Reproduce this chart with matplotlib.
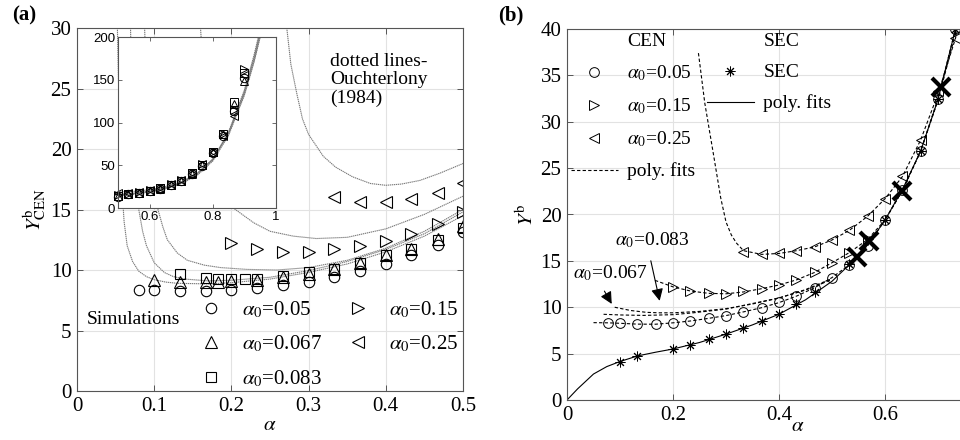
import matplotlib
matplotlib.use("Agg")
import matplotlib.pyplot as plt
from matplotlib.lines import Line2D
from matplotlib.ticker import FuncFormatter

plt.rcParams['font.family'] = ['Liberation Serif', 'DejaVu Serif']
plt.rcParams['mathtext.fontset'] = 'stix'

# ---------------- Panel (a) data ----------------
a_circ_x = [0.08, 0.1, 0.133, 0.167, 0.2, 0.233, 0.267, 0.3, 0.333, 0.367, 0.4, 0.433, 0.467, 0.5]
a_circ_y = [8.35, 8.35, 8.26, 8.26, 8.35, 8.5, 8.76, 9.04, 9.45, 9.95, 10.5, 11.24, 12.1, 13.1]
a_tri_x = [0.1, 0.133, 0.167, 0.183, 0.2, 0.233, 0.267, 0.3, 0.333, 0.367, 0.4, 0.433, 0.467, 0.5]
a_tri_y = [9.17, 9.04, 9.04, 9.04, 9.1, 9.2, 9.45, 9.7, 10.1, 10.6, 11.2, 11.7, 12.6, 13.6]
a_sq_x = [0.133, 0.167, 0.183, 0.2, 0.217, 0.233, 0.267, 0.3, 0.333, 0.367, 0.4, 0.433, 0.467, 0.5]
a_sq_y = [9.63, 9.33, 9.28, 9.25, 9.25, 9.28, 9.5, 9.8, 10.1, 10.6, 11.2, 11.7, 12.5, 13.5]
a_rt_x = [0.2, 0.233, 0.267, 0.3, 0.333, 0.367, 0.4, 0.433, 0.467, 0.5]
a_rt_y = [12.26, 11.7, 11.5, 11.5, 11.7, 12.0, 12.4, 13.0, 13.8, 14.8]
a_lt_x = [0.333, 0.367, 0.4, 0.433, 0.467, 0.5]
a_lt_y = [16.0, 15.6, 15.6, 15.9, 16.4, 17.2]

# inset simulation data
in_x = [0.5, 0.533, 0.567, 0.6, 0.633, 0.667, 0.7, 0.733, 0.767, 0.8, 0.833, 0.867, 0.9]
in_circ_y = [13.1, 15.8, 17.8, 20, 22.5, 26.5, 31.5, 39.5, 49.5, 64, 84, 113, 152]
in_tri_y = [13.6, 16.2, 18, 20.2, 22.8, 27, 32, 40, 50, 65, 86, 122, 148]
in_sq_y = [13.5, 16, 18, 20.3, 23, 27, 32, 40.5, 50.5, 65.5, 86, 124, 158]
in_rt_y = [14.8, 16.8, 18.8, 20.8, 23.2, 27.5, 32.5, 41, 51, 66, 87, 115, 162]
in_lt_y = [17.2, 17.5, 19, 21, 23.5, 27.5, 32.5, 41, 51, 66, 84, 108, 155]

# Ouchterlony (1984) curves, one per alpha0
ou_05_x = [0.052, 0.055, 0.058, 0.061, 0.065, 0.072, 0.08, 0.09, 0.1, 0.115, 0.13, 0.17, 0.2, 0.25, 0.3, 0.35,
           0.4, 0.45, 0.5, 0.55, 0.6, 0.65, 0.7, 0.75, 0.8, 0.85, 0.9, 0.93, 0.96, 0.98]
ou_05_y = [31, 22, 17, 14, 12, 10.7, 9.9, 9.45, 9.2, 9.0, 8.9, 8.85, 8.95, 9.25, 9.8, 10.5,
           11.5, 12.8, 14.5, 16.3, 18.7, 22.5, 28.5, 38, 55, 85, 132, 170, 215, 250]
ou_067_x = [0.069, 0.072, 0.076, 0.08, 0.085, 0.09, 0.1, 0.113, 0.125, 0.14, 0.17, 0.2, 0.25, 0.3, 0.35,
            0.4, 0.45, 0.5, 0.55, 0.6, 0.65, 0.7, 0.75, 0.8, 0.85, 0.9, 0.93, 0.96, 0.98]
ou_067_y = [31, 22, 17.5, 15, 13.2, 12, 10.6, 9.8, 9.45, 9.25, 9.1, 9.15, 9.4, 9.95, 10.7,
            11.7, 13.0, 14.8, 16.6, 19.0, 23, 29, 39, 56, 87, 135, 174, 220, 255]
ou_083_x = [0.087, 0.092, 0.098, 0.104, 0.111, 0.117, 0.13, 0.143, 0.165, 0.186, 0.22, 0.259, 0.3, 0.35,
            0.4, 0.45, 0.5, 0.55, 0.6, 0.65, 0.7, 0.75, 0.8, 0.85, 0.9, 0.93, 0.96, 0.98]
ou_083_y = [31, 22, 17.5, 15.2, 13.6, 12.5, 11.4, 10.8, 10.4, 10.2, 10.05, 10.0, 10.2, 10.8,
            11.8, 13.2, 15.0, 16.9, 19.4, 23.4, 29.5, 40, 57, 89, 138, 178, 225, 260]
ou_15_x = [0.159, 0.165, 0.175, 0.19, 0.203, 0.229, 0.25, 0.28, 0.31, 0.35, 0.4, 0.45, 0.5,
           0.55, 0.6, 0.65, 0.7, 0.75, 0.8, 0.85, 0.9, 0.93, 0.96, 0.98]
ou_15_y = [31, 25, 20, 16.8, 15.1, 13.9, 13.2, 12.8, 12.6, 12.7, 13.4, 14.6, 16.1,
           17.6, 19.9, 23.8, 29.8, 40, 57, 88, 136, 175, 221, 256]
ou_25_x = [0.27, 0.277, 0.285, 0.292, 0.3, 0.319, 0.335, 0.357, 0.38, 0.4, 0.42, 0.444, 0.47, 0.5,
           0.55, 0.6, 0.65, 0.7, 0.75, 0.8, 0.85, 0.9, 0.93, 0.96, 0.98]
ou_25_y = [31, 27, 24.5, 22.5, 21.2, 19.4, 18.5, 17.7, 17.15, 17.0, 17.1, 17.4, 18.0, 18.8,
           19.5, 21.3, 25, 30.5, 40.5, 57, 87, 133, 171, 216, 251]

# ---------------- Panel (b) data ----------------
b_circ_x = [0.078, 0.1, 0.133, 0.167, 0.2, 0.233, 0.267, 0.3, 0.333, 0.367, 0.4, 0.433, 0.467, 0.5,
            0.533, 0.567, 0.6, 0.633, 0.667, 0.7, 0.733]
b_circ_y = [8.34, 8.27, 8.16, 8.16, 8.34, 8.52, 8.8, 9.09, 9.49, 9.95, 10.53, 11.2, 12.1, 13.2,
            14.6, 16.6, 19.4, 22.6, 26.8, 32.5, 40.0]
b_rt_x = [0.2, 0.233, 0.267, 0.3, 0.333, 0.367, 0.4, 0.433, 0.467, 0.5, 0.533, 0.567]
b_rt_y = [12.2, 11.8, 11.5, 11.4, 11.7, 12.0, 12.4, 12.9, 13.8, 14.8, 15.8, 17.4]
b_lt_x = [0.333, 0.367, 0.4, 0.433, 0.467, 0.5, 0.533, 0.567, 0.6, 0.633, 0.667, 0.7, 0.733]
b_lt_y = [16.0, 15.7, 15.8, 16.1, 16.5, 17.25, 18.3, 19.8, 21.7, 24.1, 28.0, 33.3, 39.0]
b_sec_x = [0.1, 0.133, 0.2, 0.233, 0.267, 0.3, 0.333, 0.367, 0.4, 0.433, 0.467, 0.533, 0.6, 0.667, 0.7, 0.733]
b_sec_y = [4.13, 4.74, 5.5, 5.93, 6.58, 7.12, 7.8, 8.52, 9.24, 10.3, 11.6, 14.7, 19.4, 26.8, 32.5, 40.0]

fit_sec_x = [0, 0.02, 0.05, 0.075, 0.1, 0.133, 0.167, 0.2, 0.25, 0.3, 0.35, 0.4, 0.45, 0.5, 0.533,
             0.567, 0.6, 0.633, 0.667, 0.7, 0.733, 0.75]
fit_sec_y = [0, 1.2, 2.8, 3.6, 4.15, 4.75, 5.15, 5.5, 6.2, 7.1, 8.1, 9.25, 10.8, 12.8, 14.6,
             16.7, 19.4, 22.7, 26.8, 32.4, 40, 44]
fit_05_x = [0.05, 0.078, 0.1, 0.133, 0.167, 0.2, 0.233, 0.267, 0.3, 0.333, 0.367, 0.4, 0.433, 0.467, 0.5,
            0.533, 0.567, 0.6, 0.633, 0.667, 0.7, 0.733, 0.75]
fit_05_y = [8.34, 8.32, 8.27, 8.18, 8.17, 8.32, 8.52, 8.8, 9.1, 9.5, 9.95, 10.5, 11.2, 12.1, 13.2,
            14.6, 16.6, 19.4, 22.6, 26.8, 32.5, 40, 44]
fit_067_x = [0.09, 0.12, 0.15, 0.175, 0.2, 0.25, 0.3, 0.35, 0.4, 0.45, 0.5]
fit_067_y = [10.0, 9.65, 9.45, 9.4, 9.4, 9.55, 9.85, 10.35, 11.0, 11.85, 13.0]
fit_083_x = [0.069, 0.1, 0.144, 0.2, 0.238, 0.3, 0.333, 0.4, 0.45, 0.5]
fit_083_y = [9.24, 9.17, 9.12, 9.2, 9.4, 9.8, 10.2, 11.0, 11.9, 13.1]
fit_15_x = [0.166, 0.2, 0.233, 0.267, 0.3, 0.333, 0.367, 0.4, 0.433, 0.467, 0.5, 0.533, 0.567,
            0.6, 0.633, 0.667, 0.7, 0.733]
fit_15_y = [12.9, 12.2, 11.75, 11.5, 11.45, 11.65, 12.0, 12.4, 12.95, 13.75, 14.8, 15.9, 17.3,
            19.4, 22.6, 26.8, 32.3, 39.5]
fit_25_x = [0.248, 0.26, 0.276, 0.29, 0.3, 0.31, 0.32, 0.333, 0.367, 0.4, 0.433, 0.467, 0.5, 0.533,
            0.567, 0.6, 0.633, 0.667, 0.7, 0.733, 0.75]
fit_25_y = [37.4, 32.0, 26.6, 21.8, 19.2, 17.8, 16.9, 16.1, 15.7, 15.8, 16.1, 16.5, 17.25, 18.3,
            19.8, 21.7, 24.1, 28.0, 33.0, 39.0, 43]
bigx_x = [0.547, 0.57, 0.633, 0.705]
bigx_y = [15.4, 17.1, 22.5, 33.8]

W, H = 960, 440
fig = plt.figure(figsize=(W / 100, H / 100), dpi=100)

def ax_rect(l, r, t, b):
    return [l / W, (H - b) / H, (r - l) / W, (b - t) / H]

SPINE = '#555555'
GRID = '#e2e2e2'
fmt = FuncFormatter(lambda v, p: '%g' % v)

def style(ax, fs=15):
    for s in ax.spines.values():
        s.set_color(SPINE)
        s.set_linewidth(0.8)
    ax.tick_params(direction='in', top=True, right=True, length=4, width=0.7,
                   color=SPINE, labelsize=fs, pad=4)
    ax.grid(True, color=GRID, lw=0.8)
    ax.set_axisbelow(True)
    ax.xaxis.set_major_formatter(fmt)
    ax.yaxis.set_major_formatter(fmt)

# ---------------- Panel (a) ----------------
axa = fig.add_axes(ax_rect(77, 463, 28, 391))
style(axa)
axa.set_xlim(0, 0.5)
axa.set_ylim(0, 30)
axa.set_xticks([0, 0.1, 0.2, 0.3, 0.4, 0.5])
axa.set_yticks([0, 5, 10, 15, 20, 25, 30])

OU_KW = dict(color='#7a7a7a', lw=0.8, ls=(0, (1.2, 0.6)))
ou_curves = [(ou_05_x, ou_05_y), (ou_067_x, ou_067_y), (ou_083_x, ou_083_y),
             (ou_15_x, ou_15_y), (ou_25_x, ou_25_y)]
for cx, cy in ou_curves:
    axa.plot(cx, cy, **OU_KW)

MK = dict(ls='none', mfc='none', mec='black', mew=0.8)
ha = []
ha.append(axa.plot(a_circ_x, a_circ_y, marker='o', ms=7.5, label=r'$\alpha_0$=0.05', **MK)[0])
ha.append(axa.plot(a_tri_x, a_tri_y, marker='^', ms=8, label=r'$\alpha_0$=0.067', **MK)[0])
ha.append(axa.plot(a_sq_x, a_sq_y, marker='s', ms=7, label=r'$\alpha_0$=0.083', **MK)[0])
ha.append(axa.plot(a_rt_x, a_rt_y, marker='>', ms=8, label=r'$\alpha_0$=0.15', **MK)[0])
ha.append(axa.plot(a_lt_x, a_lt_y, marker='<', ms=8, label=r'$\alpha_0$=0.25', **MK)[0])

axa.legend(handles=ha, ncol=2, loc='upper left', bbox_to_anchor=(0.315, 0.252),
           frameon=False, fontsize=15, handlelength=1.2, handletextpad=0.9,
           columnspacing=1.1, labelspacing=0.66, borderaxespad=0, borderpad=0)

axa.text(0.013, 5.9, 'Simulations', fontsize=14, va='center', ha='left')
axa.text(0.328, 25.7, 'dotted lines-\nOuchterlony\n(1984)', fontsize=14, va='center',
         ha='left', linespacing=1.1)
axa.set_xlabel(r'$\alpha$', fontsize=15, labelpad=0)
axa.set_ylabel(r'$Y^{\rm b}_{\rm CEN}$', fontsize=15, labelpad=2)
fig.text(12 / W, 1 - 15 / H, '(a)', fontsize=15, fontweight='bold', ha='left', va='center')

# inset
axi = fig.add_axes(ax_rect(118, 276, 37, 208))
axi.set_facecolor('white')
for s in axi.spines.values():
    s.set_color(SPINE)
    s.set_linewidth(0.8)
axi.tick_params(direction='in', top=True, right=True, length=3, width=0.6, color=SPINE,
                labelsize=9.5, pad=2, labelfontfamily='Liberation Sans')
axi.set_xlim(0.5, 1.0)
axi.set_ylim(0, 200)
axi.set_xticks([0.6, 0.8, 1.0])
axi.set_yticks([0, 50, 100, 150, 200])
axi.xaxis.set_major_formatter(fmt)
axi.yaxis.set_major_formatter(fmt)
for cx, cy in ou_curves:
    axi.plot(cx, cy, **OU_KW)
IMK = dict(ls='none', mfc='none', mec='black', mew=0.7, ms=6, clip_on=False)
axi.plot(in_x, in_circ_y, marker='o', **IMK)
axi.plot(in_x, in_tri_y, marker='^', **IMK)
axi.plot(in_x, in_sq_y, marker='s', **IMK)
axi.plot(in_x, in_rt_y, marker='>', **IMK)
axi.plot(in_x, in_lt_y, marker='<', **IMK)

# ---------------- Panel (b) ----------------
axb = fig.add_axes(ax_rect(567, 991, 29, 400))
style(axb)
axb.set_xlim(0, 0.8)
axb.set_ylim(0, 40)
axb.set_xticks([0, 0.2, 0.4, 0.6])
axb.set_yticks([0, 5, 10, 15, 20, 25, 30, 35, 40])

DASH = dict(color='black', lw=0.8, ls=(0, (3, 2)))
axb.plot(fit_05_x, fit_05_y, **DASH)
axb.plot(fit_067_x, fit_067_y, **DASH)
axb.plot(fit_083_x, fit_083_y, **DASH)
axb.plot(fit_15_x, fit_15_y, **DASH)
axb.plot(fit_25_x, fit_25_y, **DASH)
axb.plot(fit_sec_x, fit_sec_y, color='black', lw=0.8)

BMK = dict(ls='none', mfc='none', mec='black', mew=0.7)
h_c = axb.plot(b_circ_x, b_circ_y, marker='o', ms=7, **BMK)[0]
h_r = axb.plot(b_rt_x, b_rt_y, marker='>', ms=6.5, **BMK)[0]
h_l = axb.plot(b_lt_x, b_lt_y, marker='<', ms=6.5, **BMK)[0]
h_s = axb.plot(b_sec_x, b_sec_y, marker=(8, 2, 0), ms=7, ls='none', color='black', mew=0.7)[0]
axb.plot(bigx_x, bigx_y, ls='none', marker='x', ms=13, mew=3, color='black', zorder=5)

blank = Line2D([], [], ls='none', marker='none')
h_dash = Line2D([], [], **DASH)
h_solid = Line2D([], [], color='black', lw=0.8)
handles_b = [blank, h_c, h_r, h_l, h_dash, blank, h_s, h_solid, blank, blank]
labels_b = ['CEN', r'$\alpha_0$=0.05', r'$\alpha_0$=0.15', r'$\alpha_0$=0.25', 'poly. fits',
            'SEC', 'SEC', 'poly. fits', '', '']
axb.legend(handles_b, labels_b, ncol=2, loc='upper left', bbox_to_anchor=(0.0, 1.0),
           frameon=False, fontsize=14, handlelength=2.4, handletextpad=0.5,
           columnspacing=0.6, labelspacing=0.68, borderaxespad=0, borderpad=0.2)

axb.annotate('', xy=(0.176, 10.4), xytext=(0.157, 15.3),
             arrowprops=dict(arrowstyle='-|>', color='black', lw=0.8, mutation_scale=18))
axb.annotate('', xy=(0.087, 10.1), xytext=(0.068, 12.0),
             arrowprops=dict(arrowstyle='-|>', color='black', lw=0.8, mutation_scale=18))
axb.text(0.09, 17.2, r'$\alpha_0$=0.083', fontsize=14, ha='left', va='center')
axb.text(0.011, 13.7, r'$\alpha_0$=0.067', fontsize=14, ha='left', va='center')

axb.set_xlabel(r'$\alpha$', fontsize=15)
axb.xaxis.set_label_coords(0.545, -0.045)
axb.set_ylabel(r'$Y^{\rm b}$', fontsize=15, labelpad=2)
fig.text(498 / W, 1 - 15 / H, '(b)', fontsize=15, fontweight='bold', ha='left', va='center')

fig.savefig('out.png', dpi=100)
